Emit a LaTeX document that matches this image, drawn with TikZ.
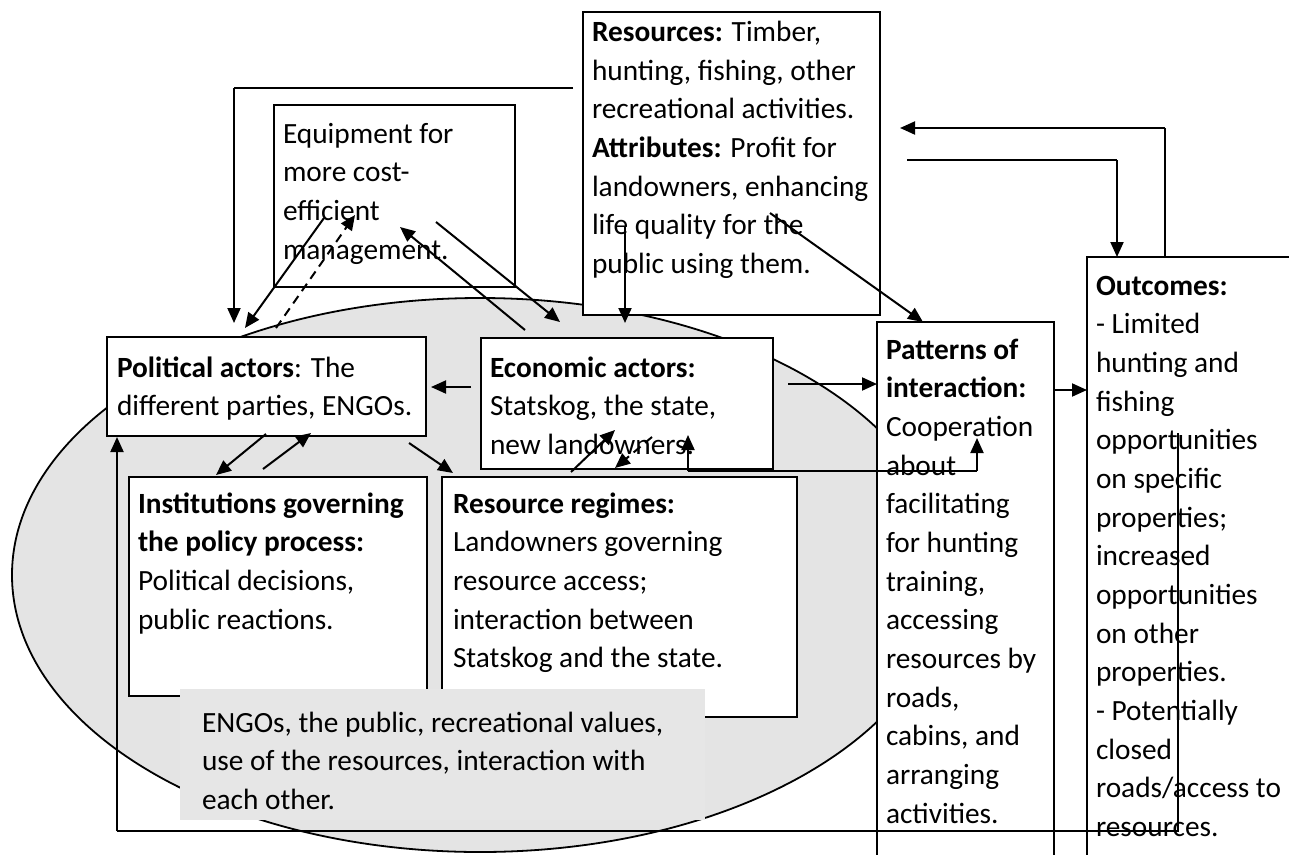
\documentclass[tikz,border=0pt]{standalone}
\usepackage{fontspec}
\setmainfont{Carlito}
\usetikzlibrary{arrows.meta,shapes.geometric}
\definecolor{arenagrey}{RGB}{228,228,228}
\definecolor{notegrey}{RGB}{230,230,230}
\newcommand\boxfont{\fontsize{29.33}{38.67}\selectfont}

\begin{document}
\begin{tikzpicture}[x=1pt,y=-1pt,
  >={Triangle[length=15pt,width=13pt]},
  panel/.style={draw=black, line width=1.8pt, fill=white, rectangle,
    anchor=north west, inner sep=0pt, outer sep=0pt},
  txt/.style={anchor=base west, inner sep=0pt, outer sep=0pt,
    text width=#1, align=flush left, font=\boxfont},
  txt/.default=600pt,
  link/.style={line width=2pt, ->},
  wire/.style={line width=1.2pt},
  dashlink/.style={link, dash pattern=on 9pt off 6pt},
]
\useasboundingbox (0,0) rectangle (1289,854);
\clip (0,0) rectangle (1289,854);

% the shared action arena
\node[draw=black, line width=1.8pt, fill=arenagrey, ellipse,
  minimum width=936pt, minimum height=554pt, inner sep=0pt] (arena) at (480,575) {};

% boxes
\node[panel, minimum width=297pt, minimum height=303pt] (res)   at (583,12)  {};
\node[panel, minimum width=241pt, minimum height=182pt] (equip) at (274,105) {};
\node[panel, minimum width=319pt, minimum height=99pt]  (pol)   at (107,337) {};
\node[panel, minimum width=292pt, minimum height=131pt] (eco)   at (481,338) {};
\node[panel, minimum width=298pt, minimum height=219pt] (inst)  at (129,477) {};
\node[panel, minimum width=355pt, minimum height=240pt] (reg)   at (442,477) {};
\node[panel, minimum width=177pt, minimum height=560pt] (pat)   at (877,322) {};
\node[panel, minimum width=240pt, minimum height=640pt] (out)   at (1087,257) {};
\node[fill=notegrey, anchor=north west, inner sep=0pt, outer sep=0pt,
  minimum width=525pt, minimum height=131pt] (note) at (180,689) {};

% texts
\node[txt] (res-t) at (592,41.5) {\textbf{Resources:} Timber,\\hunting, fishing, other\\recreational activities.\\\textbf{Attributes:} Profit for\\landowners, enhancing\\life quality for the\\public using them.};
\node[txt] (equip-t) at (283,143) {Equipment for\\more cost-\\efficient\\management.};
\node[txt] (pol-t) at (117,377) {\textbf{Political actors}: The\\different parties, ENGOs.};
\node[txt] (eco-t) at (490,377) {\textbf{Economic actors:}\\Statskog, the state,\\new landowners.};
\node[txt] (inst-t) at (138,513) {\textbf{Institutions governing}\\\textbf{the policy process:}\\Political decisions,\\public reactions.};
\node[txt] (reg-t) at (453,513) {\textbf{Resource regimes:}\\Landowners governing\\resource access;\\interaction between\\Statskog and the state.};
\node[txt] (pat-t) at (886,359) {\textbf{Patterns of}\\\textbf{interaction:}\\Cooperation\\about\\facilitating\\for hunting\\training,\\accessing\\resources by\\roads,\\cabins, and\\arranging\\activities.};
\node[txt] (out-t) at (1096,295) {\textbf{Outcomes:}\\- Limited\\hunting and\\fishing\\opportunities\\on specific\\properties;\\increased\\opportunities\\on other\\properties.\\- Potentially\\closed\\roads/access to\\resources.};
\node[txt] (note-t) at (202,732) {ENGOs, the public, recreational values,\\use of the resources, interaction with\\each other.};

% connector end points
\coordinate (ep-a) at (324,218);  \coordinate (ep-b) at (245,328);
\coordinate (pe-a) at (276,328);  \coordinate (pe-b) at (355,215);
\coordinate (ce-a) at (525,330);  \coordinate (ce-b) at (400,227);
\coordinate (ec-a) at (436,222);  \coordinate (ec-b) at (560,322);
\coordinate (rc-a) at (625,227);  \coordinate (rc-b) at (625,323);
\coordinate (rp-a) at (573,88);   \coordinate (rp-b) at (234,88);   \coordinate (rp-c) at (234,323);
\coordinate (rt-a) at (770,213);  \coordinate (rt-b) at (923,322);
\coordinate (cp-a) at (471,387);  \coordinate (cp-b) at (431,387);
\coordinate (ct-a) at (788,384);  \coordinate (ct-b) at (877,384);
\coordinate (to-a) at (1054,390); \coordinate (to-b) at (1087,390);
\coordinate (or-a) at (1165,257); \coordinate (or-b) at (1165,128); \coordinate (or-c) at (900,128);
\coordinate (ro-a) at (907,160);  \coordinate (ro-b) at (1117,160); \coordinate (ro-c) at (1117,257);
\coordinate (pg-a) at (409,443);  \coordinate (pg-b) at (453,473);
\coordinate (pi-a) at (266,434);  \coordinate (pi-b) at (216,475);
\coordinate (ip-a) at (263,469);  \coordinate (ip-b) at (311,433);
\coordinate (gc-a) at (571,472);  \coordinate (gc-b) at (615,430);
\coordinate (cg-a) at (652,437);  \coordinate (cg-b) at (615,468);
\coordinate (tc-a) at (688,435);  \coordinate (tc-b) at (688,471);
\coordinate (tc-c) at (977,471);  \coordinate (tc-d) at (977,438);
\coordinate (op-a) at (1178,433); \coordinate (op-b) at (1178,831);
\coordinate (op-c) at (117,831);  \coordinate (op-d) at (117,437);

% connectors
\draw[link] (ep-a) -- (ep-b);
\draw[dashlink] (pe-a) -- (pe-b);
\draw[link] (ce-a) -- (ce-b);
\draw[link] (ec-a) -- (ec-b);
\draw[link] (rc-a) -- (rc-b);
\draw[wire] (rp-a) -- (rp-b);
\draw[link] (rp-b) -- (rp-c);
\draw[link] (rt-a) -- (rt-b);
\draw[link] (cp-a) -- (cp-b);
\draw[link] (ct-a) -- (ct-b);
\draw[link] (to-a) -- (to-b);
\draw[wire] (or-a) -- (or-b);
\draw[link] (or-b) -- (or-c);
\draw[wire] (ro-a) -- (ro-b);
\draw[link] (ro-b) -- (ro-c);
\draw[link] (pg-a) -- (pg-b);
\draw[link] (pi-a) -- (pi-b);
\draw[link] (ip-a) -- (ip-b);
\draw[link] (gc-a) -- (gc-b);
\draw[dashlink] (cg-a) -- (cg-b);
\draw[wire] (tc-b) -- (tc-c);
\draw[link] (tc-b) -- (tc-a);
\draw[link] (tc-c) -- (tc-d);
\draw[wire] (op-a) -- (op-b) -- (op-c);
\draw[link] (op-c) -- (op-d);
\end{tikzpicture}
\end{document}
